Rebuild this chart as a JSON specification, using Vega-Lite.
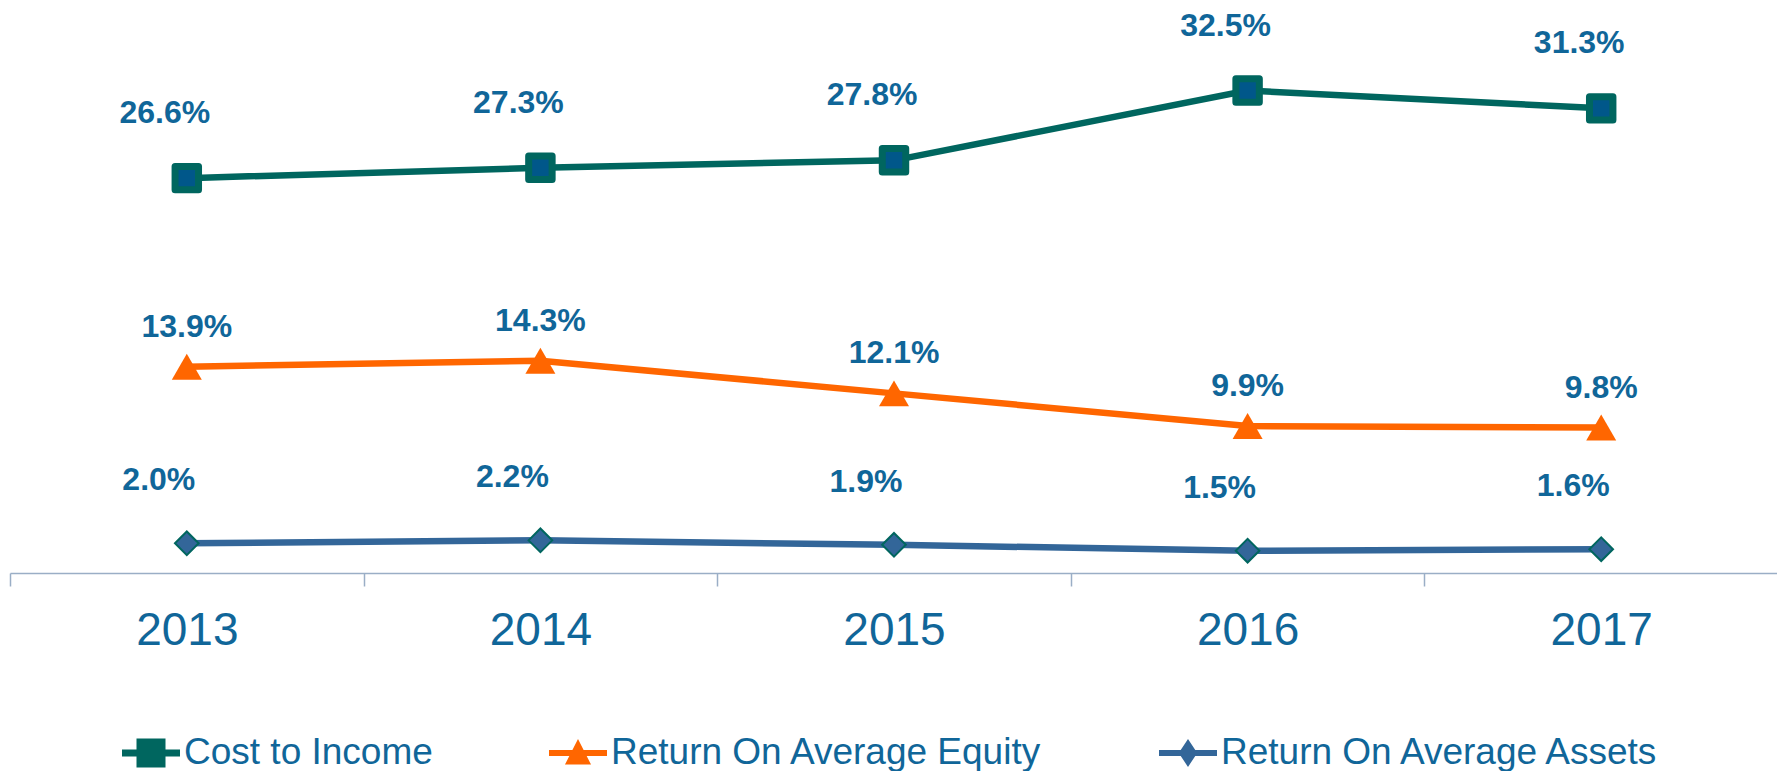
{
  "$schema": "https://vega.github.io/schema/vega-lite/v6.json",
  "width": 1768,
  "height": 573,
  "padding": {"left": 9, "top": 0, "right": 0, "bottom": 0},
  "autosize": {"type": "pad"},
  "background": "white",
  "config": {"view": {"stroke": null}, "font": "Liberation Sans"},
  "data": {
    "values": [
      {"year": "2013", "series": "Cost to Income", "value": 0.266},
      {"year": "2014", "series": "Cost to Income", "value": 0.273},
      {"year": "2015", "series": "Cost to Income", "value": 0.278},
      {"year": "2016", "series": "Cost to Income", "value": 0.325},
      {"year": "2017", "series": "Cost to Income", "value": 0.313},
      {"year": "2013", "series": "Return On Average Equity", "value": 0.139},
      {"year": "2014", "series": "Return On Average Equity", "value": 0.143},
      {"year": "2015", "series": "Return On Average Equity", "value": 0.121},
      {"year": "2016", "series": "Return On Average Equity", "value": 0.099},
      {"year": "2017", "series": "Return On Average Equity", "value": 0.098},
      {"year": "2013", "series": "Return On Average Assets", "value": 0.020},
      {"year": "2014", "series": "Return On Average Assets", "value": 0.022},
      {"year": "2015", "series": "Return On Average Assets", "value": 0.019},
      {"year": "2016", "series": "Return On Average Assets", "value": 0.015},
      {"year": "2017", "series": "Return On Average Assets", "value": 0.016}
    ]
  },
  "encoding": {
    "x": {
      "field": "year",
      "type": "ordinal",
      "scale": {"type": "band", "paddingInner": 0, "paddingOuter": 0},
      "axis": {
        "title": null,
        "labelAngle": 0,
        "tickBand": "extent",
        "grid": false,
        "domainColor": "#9aaec6",
        "domainWidth": 1.5,
        "tickColor": "#9aaec6",
        "tickWidth": 1.5,
        "tickSize": 13,
        "labelFont": "Liberation Sans",
        "labelFontSize": 46,
        "labelColor": "#106699",
        "labelPadding": 22
      }
    },
    "y": {
      "field": "value",
      "type": "quantitative",
      "scale": {"domain": [0, 0.386], "nice": false, "zero": true},
      "axis": null
    }
  },
  "layer": [
    {
      "mark": {"type": "line", "strokeWidth": 6.5},
      "encoding": {
        "color": {
          "field": "series",
          "type": "nominal",
          "sort": null,
          "scale": {
            "domain": ["Cost to Income", "Return On Average Equity", "Return On Average Assets"],
            "range": ["#00665f", "#ff6600", "#336699"]
          },
          "legend": {
            "orient": "none",
            "legendX": 112,
            "legendY": 724,
            "direction": "horizontal",
            "padding": 0,
            "title": null,
            "columnPadding": 116,
            "labelOffset": 4,
            "labelLimit": 700,
            "symbolSize": 3364,
            "symbolStrokeWidth": 0,
            "labelFont": "Liberation Sans",
            "labelFontSize": 37,
            "labelColor": "#106699",
            "encode": {
              "symbols": {
                "update": {
                  "shape": {"signal": "datum.value === 'Cost to Income' ? 'M-1,-0.12L1,-0.12L1,0.12L-1,0.12Z M-0.5,-0.5L0.5,-0.5L0.5,0.5L-0.5,0.5Z' : datum.value === 'Return On Average Equity' ? 'M-1,-0.1L1,-0.1L1,0.1L-1,0.1Z M0,-0.48L0.45,0.4L-0.45,0.4Z' : 'M-1,-0.1L1,-0.1L1,0.1L-1,0.1Z M0,-0.48L0.32,0L0,0.48L-0.32,0Z'"},
                  "fill": {"signal": "datum.value === 'Cost to Income' ? '#00665f' : datum.value === 'Return On Average Equity' ? '#ff6600' : '#336699'"},
                  "stroke": {"value": "transparent"},
                  "opacity": {"value": 1}
                }
              }
            }
          }
        }
      }
    },
    {
      "transform": [{"filter": "datum.series === 'Cost to Income'"}],
      "mark": {"type": "point", "shape": "square", "filled": true, "fill": "#00578a", "stroke": "#00665f", "strokeWidth": 7, "strokeJoin": "round", "size": 550, "opacity": 1}
    },
    {
      "transform": [{"filter": "datum.series === 'Return On Average Equity'"}],
      "mark": {"type": "point", "shape": "triangle-up", "filled": true, "fill": "#ff6600", "strokeWidth": 0, "size": 900, "opacity": 1}
    },
    {
      "transform": [{"filter": "datum.series === 'Return On Average Assets'"}],
      "mark": {"type": "point", "shape": "diamond", "filled": true, "fill": "#336699", "stroke": "#00665f", "strokeWidth": 2, "size": 560, "opacity": 1}
    },
    {
      "transform": [{"filter": "datum.series === 'Cost to Income'"}],
      "mark": {"type": "text", "font": "Liberation Sans", "fontWeight": "bold", "fontSize": 32, "fill": "#106699", "align": "center", "baseline": "alphabetic", "dx": -22, "dy": -55},
      "encoding": {"text": {"field": "value", "type": "quantitative", "format": ".1%"}}
    },
    {
      "transform": [{"filter": "datum.series === 'Return On Average Equity'"}],
      "mark": {"type": "text", "font": "Liberation Sans", "fontWeight": "bold", "fontSize": 32, "fill": "#106699", "align": "center", "baseline": "alphabetic", "dx": 0, "dy": -30},
      "encoding": {"text": {"field": "value", "type": "quantitative", "format": ".1%"}}
    },
    {
      "transform": [{"filter": "datum.series === 'Return On Average Assets'"}],
      "mark": {"type": "text", "font": "Liberation Sans", "fontWeight": "bold", "fontSize": 32, "fill": "#106699", "align": "center", "baseline": "alphabetic", "dx": -28, "dy": -53},
      "encoding": {"text": {"field": "value", "type": "quantitative", "format": ".1%"}}
    }
  ]
}
